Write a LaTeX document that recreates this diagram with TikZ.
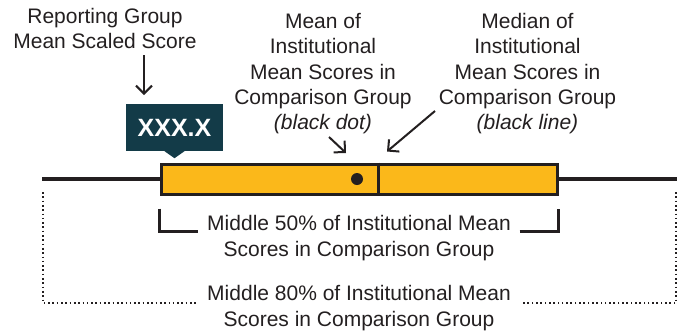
\documentclass[tikz,border=0pt]{standalone}
\usepackage{fontspec}
\setmainfont{Liberation Sans}
\usetikzlibrary{arrows.meta}
\definecolor{boxorange}{HTML}{FBB81A}
\definecolor{labelteal}{HTML}{133B48}
\definecolor{inkgray}{HTML}{231F20}
\begin{document}
\begin{tikzpicture}[x=1pt,y=-1pt,
    every node/.style={font=\fontsize{21}{25.3}\selectfont,text=inkgray,inner sep=0pt,align=center},
    pointer/.style={-{Straight Barb[length=8pt,width=16pt]},line width=2pt,draw=inkgray},
    bracket/.style={line width=2.2pt,draw=inkgray},
    dotbracket/.style={line width=2pt,dash pattern=on 1.6pt off 2.7pt,draw=inkgray}]
      \useasboundingbox (0,0) rectangle (686,333);
      % whiskers, box, median and mean
      \coordinate (lo) at (42,179);
      \coordinate (hi) at (677,179);
      \coordinate (med) at (378,0);
      \draw[line width=4.5pt,draw=inkgray] (lo) -- (hi);
      \node (iqr) [draw=inkgray,line width=3pt,fill=boxorange,minimum width=396,minimum height=30] at (359,179) {};
      \draw[line width=3pt,draw=inkgray] (iqr.north -| med) -- (iqr.south -| med);
      \node (dot) [circle,fill=inkgray,minimum size=12] at (357,179) {};
      % score label
      \node (score) [fill=labelteal,text=white,font=\bfseries\fontsize{25}{30}\selectfont,minimum width=97,minimum height=47] at (174.5,127.5) {XXX.X};
      \fill[labelteal] (score.south) ++(-10,0) -- ++(10,7) -- ++(10,-7) -- cycle;
      % texts
      \node (rep) [anchor=north] at (105,8) {Reporting Group\\Mean Scaled Score};
      \node (meantxt) [anchor=north] at (323,13) {Mean of\\Institutional\\Mean Scores in\\Comparison Group\\\textit{(black dot)}};
      \node (medtxt) [anchor=north] at (527.5,13) {Median of\\Institutional\\Mean Scores in\\Comparison Group\\\textit{(black line)}};
      \node (mid50) [anchor=north] at (359,215.5) {Middle 50\% of Institutional Mean\\Scores in Comparison Group};
      \node (mid80) [anchor=north] at (359,285.5) {Middle 80\% of Institutional Mean\\Scores in Comparison Group};
      % arrows
      \coordinate (reptail) at (144,55);
      \coordinate (reptip) at (144,95);
      \coordinate (meantail) at (329,137);
      \coordinate (medtail) at (435,111);
      \draw[pointer] (reptail) -- (reptip);
      \draw[pointer] (meantail) -- ([shift={(-11,-26)}]dot.center);
      \draw[pointer] (medtail) -- ([shift={(9,-11)}]iqr.north -| med);
      % brackets
      \draw[bracket] (iqr.south west) ++(0,13) -- ++(0,23) -- ++(38,0);
      \draw[bracket] (iqr.south east) ++(-39,36) -- ++(39,0) -- ++(0,-23);
      \draw[dotbracket] (lo) ++(1,13) -- ++(0,111) -- ++(155,0);
      \draw[dotbracket] (hi) ++(-1,13) -- ++(0,111) -- ++(-154,0);
    \end{tikzpicture}
\end{document}
